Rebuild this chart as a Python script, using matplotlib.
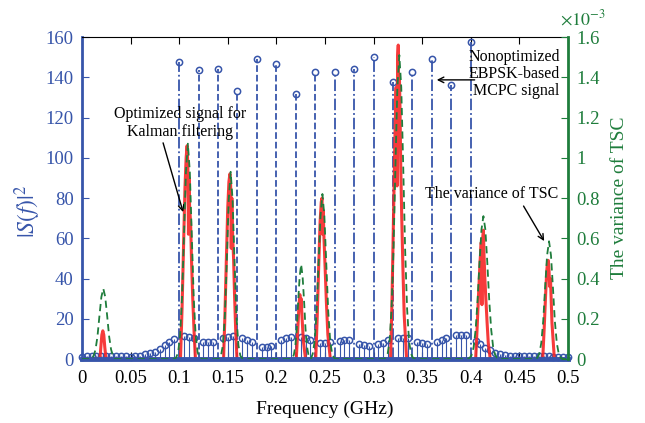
import numpy as np
import matplotlib
matplotlib.use('Agg')
import matplotlib.pyplot as plt
from matplotlib.ticker import FuncFormatter, MultipleLocator

plt.rcParams['font.family'] = ['Liberation Serif', 'DejaVu Serif']
plt.rcParams['mathtext.fontset'] = 'stix'

BLUE = '#3755aa'
GREEN = '#1f7d3c'
RED = '#f52626'
TICK_FS = 13.5
NOTE_FS = 11.5

# nonoptimized MCPC signal: big spectral lines
big_freq = [0.10, 0.12, 0.14, 0.16, 0.18, 0.20, 0.22, 0.24,
            0.26, 0.28, 0.30, 0.32, 0.34, 0.36, 0.38, 0.40]
big_vals = [147.5, 143.8, 144.2, 133.2, 149.3, 146.8, 131.6, 142.8,
            142.8, 144.2, 150.2, 137.4, 142.8, 149.2, 136.2, 157.3]

# optimized signal: small spectral lines on a 0.005 GHz grid
small_vals = [1.2, 1.3, 1.3, 1.4, 1.5, 1.5, 1.5, 1.4, 1.3, 1.3,
              1.2, 1.4, 1.7, 2.3, 2.9, 3.6, 5.1, 7.0, 8.6, 10.0,
              11.2, 11.0, 10.4,
              8.4, 8.3, 8.6,
              10.4, 11.0, 11.5,
              10.4, 9.4, 8.3,
              6.2, 6.1, 6.7,
              9.6, 10.6, 11.1,
              11.0, 10.3, 9.6,
              8.0, 8.0, 8.3,
              9.0, 9.3, 9.3,
              7.6, 7.0, 6.5,
              7.3, 8.0, 9.3,
              10.6, 10.6, 10.3,
              8.6, 8.0, 7.3,
              8.3, 9.3, 10.3,
              11.9, 11.9, 11.9,
              9.0, 7.3, 5.6, 4.3, 3.1, 2.3, 1.8, 1.6, 1.5, 1.5,
              1.5, 1.4, 1.4, 1.3, 1.3, 1.3, 1.2, 1.2, 1.2, 1.2]

# |S(f)|^2 of the optimized signal (red)
red_freq = [0.0,
            0.0185, 0.0195, 0.0205, 0.0215, 0.0225, 0.0235, 0.0248,
            0.1014, 0.103, 0.1045, 0.106, 0.1072, 0.1082, 0.109, 0.1096,
            0.1102, 0.1108, 0.1118, 0.1128, 0.114, 0.1155, 0.1168,
            0.1457, 0.147, 0.1485, 0.150, 0.1512, 0.1522, 0.153, 0.1536,
            0.1542, 0.155, 0.156, 0.157, 0.1582, 0.1595,
            0.2205, 0.222, 0.2232, 0.2242, 0.2248, 0.2255, 0.2265, 0.2278, 0.230,
            0.2405, 0.242, 0.2435, 0.245, 0.2462, 0.247, 0.2476, 0.2482,
            0.249, 0.2502, 0.2515, 0.253, 0.2555,
            0.3175, 0.319, 0.3205, 0.322, 0.3232, 0.3242, 0.3248, 0.3254,
            0.326, 0.3266, 0.3272, 0.328, 0.329, 0.3302, 0.3315, 0.334,
            0.405, 0.4065, 0.408, 0.4095, 0.4108, 0.4115, 0.4122, 0.413,
            0.4136, 0.4145, 0.4155, 0.4168, 0.418, 0.420,
            0.474, 0.4755, 0.477, 0.4782, 0.479, 0.4797, 0.4805, 0.4812,
            0.482, 0.4835, 0.486,
            0.5]
red_vals = [0,
            0, 6, 12, 14, 12, 6, 0,
            0, 25, 55, 85, 100, 106, 96, 62,
            90, 75, 68, 48, 30, 12, 0,
            0, 20, 48, 75, 88, 92, 86, 55,
            80, 62, 50, 32, 14, 0,
            0, 14, 26, 32, 25, 30, 20, 9, 0,
            0, 20, 45, 68, 78, 80, 62, 74,
            60, 45, 28, 12, 0,
            0, 30, 70, 110, 135, 86, 150, 156,
            110, 140, 125, 95, 70, 45, 22, 0,
            0, 15, 32, 48, 58, 27, 60, 64,
            52, 40, 30, 18, 8, 0,
            0, 15, 32, 44, 48, 49, 44, 36,
            40, 18, 0,
            0]

# variance of TSC (green, units of 1e-3)
green_freq = [0.0,
              0.010, 0.012, 0.014, 0.016, 0.018, 0.020, 0.022, 0.024, 0.026,
              0.028, 0.030, 0.032, 0.034,
              0.095, 0.097, 0.099, 0.101, 0.103, 0.105, 0.107, 0.109, 0.111,
              0.113, 0.115, 0.117, 0.119, 0.121, 0.123,
              0.139, 0.141, 0.143, 0.145, 0.147, 0.149, 0.151, 0.153, 0.155,
              0.157, 0.159, 0.161, 0.163, 0.165, 0.167,
              0.215, 0.2165, 0.218, 0.2195, 0.221, 0.2225, 0.224, 0.2255,
              0.227, 0.2285, 0.230, 0.2315, 0.233, 0.2345,
              0.2354, 0.2374, 0.2394, 0.2414, 0.2434, 0.2454, 0.2474, 0.2494,
              0.2514, 0.2534, 0.2554, 0.2574, 0.2594, 0.2614,
              0.3105, 0.3125, 0.3145, 0.3165, 0.3185, 0.3205, 0.3225, 0.3245,
              0.3265, 0.3285, 0.3305, 0.3325, 0.3345, 0.3365, 0.3385, 0.3405, 0.3425,
              0.397, 0.399, 0.401, 0.403, 0.405, 0.407, 0.409, 0.411, 0.413,
              0.415, 0.417, 0.419, 0.421, 0.423, 0.425, 0.427, 0.429,
              0.4665, 0.4685, 0.4705, 0.4725, 0.4745, 0.4765, 0.4785, 0.4805,
              0.4825, 0.4845, 0.4865, 0.4885, 0.4905, 0.4925, 0.4945,
              0.5]
green_vals = [0,
              0, 0.015, 0.047, 0.112, 0.213, 0.308, 0.35, 0.308, 0.213,
              0.112, 0.047, 0.015, 0,
              0, 0.008, 0.033, 0.117, 0.307, 0.615, 0.93, 1.07, 0.93,
              0.615, 0.307, 0.117, 0.033, 0.008, 0,
              0, 0.003, 0.016, 0.068, 0.21, 0.48, 0.79, 0.93, 0.79,
              0.48, 0.21, 0.068, 0.016, 0.003, 0,
              0, 0.005, 0.021, 0.063, 0.15, 0.29, 0.41, 0.47,
              0.41, 0.29, 0.15, 0.063, 0.021, 0.005,
              0, 0.025, 0.089, 0.235, 0.47, 0.71, 0.82, 0.71,
              0.47, 0.235, 0.089, 0.025, 0.006, 0,
              0, 0.006, 0.026, 0.089, 0.25, 0.54, 0.96, 1.35,
              1.51, 1.35, 0.96, 0.54, 0.25, 0.089, 0.026, 0.006, 0,
              0, 0.006, 0.021, 0.06, 0.146, 0.291, 0.479, 0.643, 0.71,
              0.643, 0.479, 0.291, 0.146, 0.06, 0.021, 0.006, 0,
              0, 0.006, 0.026, 0.079, 0.187, 0.357, 0.515, 0.585,
              0.515, 0.357, 0.187, 0.079, 0.026, 0.006, 0,
              0]

grid = np.round(np.arange(0, 0.5001, 0.005), 3)
small_freq = [f for f in grid if min(abs(f - b) for b in big_freq) > 1e-6]

fig = plt.figure(figsize=(6.45, 4.23), dpi=100)
ax = fig.add_axes([0.127, 0.1513, 0.7536, 0.7612])

# small stems
ml, sl, bl = ax.stem(small_freq, small_vals, linefmt='-', markerfmt='o', basefmt=' ')
plt.setp(sl, color=BLUE, lw=0.8)
plt.setp(ml, color=BLUE, markersize=4.5, markerfacecolor='none', markeredgewidth=1.1, clip_on=False)

# big stems, two dash styles
dashed_idx = [1, 2, 3, 4, 5, 6, 7]
for i, (f, v) in enumerate(zip(big_freq, big_vals)):
    ls = '--' if i in dashed_idx else '-.'
    ax.plot([f, f], [0, v], color=BLUE, lw=1.3, ls=ls)
ax.plot(big_freq, big_vals, 'o', color=BLUE, markersize=4.5,
        markerfacecolor='none', markeredgewidth=1.1)

ax.plot(red_freq, red_vals, color=RED, lw=2.2, alpha=0.9, zorder=4)

# thick stem baseline on top of the red zero segments
ax.plot([0, 0.5], [0, 0], color=BLUE, lw=3.5, solid_capstyle='projecting', clip_on=False, zorder=5)

ax.set_xlim(0, 0.5)
ax.set_ylim(0, 160)
ax.xaxis.set_major_locator(MultipleLocator(0.05))
ax.yaxis.set_major_locator(MultipleLocator(20))
ax.xaxis.set_major_formatter(FuncFormatter(lambda v, p: '%g' % round(v, 3)))
ax.tick_params(axis='x', direction='in', length=5, top=True, labelsize=TICK_FS, pad=8)
ax.tick_params(axis='y', direction='in', length=5, colors=BLUE, labelsize=TICK_FS, pad=6)
ax.spines['left'].set_color(BLUE)
ax.spines['left'].set_linewidth(2)
ax.spines['right'].set_visible(False)

ax.set_xlabel('Frequency (GHz)', fontsize=14)
ax.xaxis.set_label_coords(0.5, -0.13)
ax.set_ylabel(r'$|S(f)|^2$', fontsize=17, color=BLUE, va='center')
ax.yaxis.set_label_coords(-0.112, 0.46)

ax2 = ax.twinx()
ax2.plot(green_freq, green_vals, color=GREEN, lw=1.3, ls='--', dashes=(4, 2.5))
ax2.set_ylim(0, 1.6)
ax2.yaxis.set_major_locator(MultipleLocator(0.2))
ax2.yaxis.set_major_formatter(FuncFormatter(lambda v, p: '%g' % round(v, 2)))
ax2.tick_params(axis='y', direction='in', length=5, colors=GREEN, labelsize=TICK_FS, pad=6)
for s in ['left', 'top', 'bottom']:
    ax2.spines[s].set_visible(False)
ax2.spines['right'].set_color(GREEN)
ax2.spines['right'].set_linewidth(2)
ax2.set_ylabel('The variance of TSC', fontsize=14, color=GREEN, rotation=90, va='center')
ax2.yaxis.set_label_coords(1.107, 0.5)
ax2.text(1.03, 1.025, r'$\times10^{-3}$', transform=ax2.transAxes, ha='center', va='bottom',
         color=GREEN, fontsize=13)

arrow = dict(arrowstyle='->', color='black', lw=1.0, shrinkA=0, shrinkB=0)
ax.text(0.101, 117.3, 'Optimized signal for\nKalman filtering', ha='center', va='center',
        fontsize=NOTE_FS, zorder=6)
ax.annotate('', xy=(0.1041, 73), xytext=(0.0835, 107.4), arrowprops=arrow, zorder=6)

ax.text(0.4914, 141.6, 'Nonoptimized\nEBPSK-based\nMCPC signal', ha='right', va='center',
        ma='right', fontsize=NOTE_FS, linespacing=1.05, zorder=6)
ax.annotate('', xy=(0.365, 138.7), xytext=(0.404, 138.7), arrowprops=arrow, zorder=6)

ax.text(0.4216, 82, 'The variance of TSC', ha='center', va='center', fontsize=NOTE_FS, zorder=6)
ax.annotate('', xy=(0.4755, 58.6), xytext=(0.4543, 76), arrowprops=arrow, zorder=6)

fig.savefig('out.png', dpi=100)
